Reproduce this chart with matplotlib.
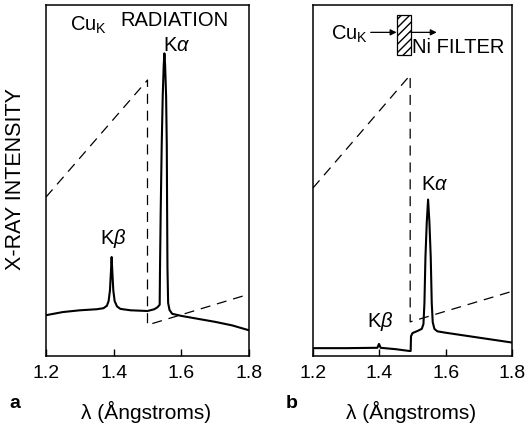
"""
Cu K radiation spectrum, unfiltered (a) and through a Ni filter (b).
"""
import matplotlib
matplotlib.use('Agg')
import matplotlib.pyplot as plt
from matplotlib.patches import Rectangle

plt.rcParams['font.family'] = ['Liberation Sans', 'DejaVu Sans']
plt.rcParams['mathtext.fontset'] = 'custom'
plt.rcParams['mathtext.rm'] = 'Liberation Sans'
plt.rcParams['mathtext.it'] = 'Liberation Sans:italic'

# x ticks
xticks = [1.2, 1.4, 1.6, 1.8]
xticklabels = ['1.2', '1.4', '1.6', '1.8']

# panel a: unfiltered spectrum (solid) and Ni absorption (dashed), intensity 0-100
a_lam = [1.200, 1.250, 1.300, 1.350, 1.370, 1.380, 1.385, 1.389, 1.392, 1.394,
         1.396, 1.399, 1.403, 1.410, 1.420, 1.450, 1.500, 1.520, 1.530, 1.536,
         1.537, 1.539, 1.542, 1.545, 1.548, 1.550, 1.552, 1.555, 1.557, 1.558,
         1.559, 1.561, 1.565, 1.573, 1.600, 1.700, 1.750, 1.800]
a_int = [11.5, 12.4, 12.9, 13.2, 13.5, 14.2, 15.5, 18.5, 24.0, 28.1,
         24.0, 18.5, 15.5, 14.0, 13.3, 12.9, 12.7, 13.2, 13.8, 14.5,
         25.0, 41.0, 60.0, 74.0, 83.0, 86.2, 83.0, 74.0, 60.0, 41.0,
         25.0, 15.0, 13.0, 11.9, 11.3, 9.6, 8.6, 7.2]
a_abs_lam = [1.200, 1.500, 1.500, 1.800]
a_abs_int = [45.2, 78.6, 8.7, 17.5]

# panel b: Ni filtered spectrum
b_lam = [1.200, 1.300, 1.390, 1.394, 1.399, 1.404, 1.450, 1.490, 1.4945, 1.4955,
         1.500, 1.515, 1.528, 1.533, 1.536, 1.539, 1.543, 1.547, 1.551, 1.555,
         1.558, 1.561, 1.566, 1.575, 1.600, 1.700, 1.800]
b_int = [2.1, 2.1, 2.2, 2.2, 3.3, 2.2, 1.8, 1.3, 1.3, 5.5,
         6.4, 7.0, 7.6, 9.0, 15.0, 28.0, 38.0, 44.5, 38.0, 28.0,
         15.0, 9.5, 7.6, 6.9, 6.5, 5.1, 3.7]
b_abs_lam = [1.200, 1.493, 1.493, 1.800]
b_abs_int = [47.8, 80.0, 9.6, 18.3]

fs = 14.5

fig = plt.figure(figsize=(5.28, 4.25), dpi=100)
ax1 = fig.add_axes([0.0871, 0.1635, 0.3845, 0.8247])
ax2 = fig.add_axes([0.5928, 0.1635, 0.3769, 0.8247])

for ax, lam, inten, alam, aint in ((ax1, a_lam, a_int, a_abs_lam, a_abs_int),
                                   (ax2, b_lam, b_int, b_abs_lam, b_abs_int)):
    ax.plot(alam, aint, color='black', lw=0.9, ls=(0, (8, 5.5)))
    ax.plot(lam, inten, color='black', lw=1.5, solid_joinstyle='round')
    ax.set_xlim(1.2, 1.8)
    ax.set_ylim(0, 100)
    ax.set_xticks(xticks)
    ax.set_xticklabels(xticklabels, fontsize=14)
    ax.set_yticks([])
    ax.tick_params(axis='x', direction='in', length=5, width=1, pad=7)
    for s in ax.spines.values():
        s.set_linewidth(1.1)

# panel a text
ax1.text(1.271, 94.3, 'Cu$_{\\mathrm{K}}$', fontsize=fs, va='center', ha='left')
ax1.text(1.419, 95.7, 'RADIATION', fontsize=fs, va='center', ha='left')
ax1.text(1.546, 88.4, 'K$\\alpha$', fontsize=fs, va='center', ha='left')
ax1.text(1.398, 33.5, 'K$\\beta$', fontsize=fs, va='center', ha='center')

# panel b text and filter sketch
ax2.text(1.254, 91.6, 'Cu$_{\\mathrm{K}}$', fontsize=fs, va='center', ha='left')
ax2.annotate('', xy=(1.452, 92.2), xytext=(1.374, 92.2),
             arrowprops=dict(arrowstyle='-|>', color='black', lw=0.9,
                             mutation_scale=9, shrinkA=0, shrinkB=0))
ax2.add_patch(Rectangle((1.453, 85.7), 0.042, 11.4, facecolor='white',
                        edgecolor='black', lw=0.9, hatch='////'))
ax2.annotate('', xy=(1.573, 92.2), xytext=(1.495, 92.2),
             arrowprops=dict(arrowstyle='-|>', color='black', lw=0.9,
                             mutation_scale=9, shrinkA=0, shrinkB=0))
ax2.text(1.498, 87.9, 'Ni FILTER', fontsize=fs, va='center', ha='left')
ax2.text(1.526, 48.8, 'K$\\alpha$', fontsize=fs, va='center', ha='left')
ax2.text(1.4035, 9.7, 'K$\\beta$', fontsize=fs, va='center', ha='center')

# axis labels
fig.text(16 / 528, 1 - 179 / 425, 'X-RAY INTENSITY', rotation=90,
         fontsize=15.5, ha='center', va='center')
fig.text(146 / 528, 1 - 412 / 425, 'λ (Ångstroms)', fontsize=15,
         ha='center', va='center')
fig.text(411 / 528, 1 - 412 / 425, 'λ (Ångstroms)', fontsize=15,
         ha='center', va='center')
fig.text(15 / 528, 1 - 404 / 425, 'a', fontsize=14, fontweight='bold',
         ha='center', va='center')
fig.text(292 / 528, 1 - 404 / 425, 'b', fontsize=14, fontweight='bold',
         ha='center', va='center')

fig.savefig('out.png', dpi=100)
